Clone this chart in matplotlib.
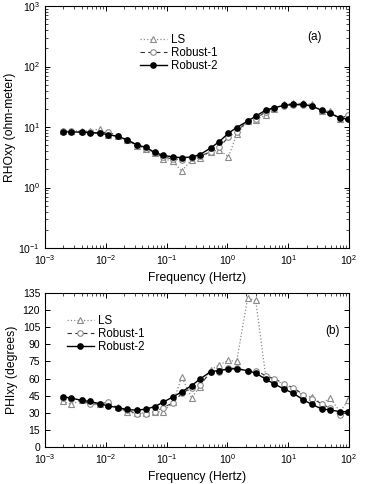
import numpy as np
import matplotlib
matplotlib.use('Agg')
import matplotlib.pyplot as plt
import matplotlib.ticker as mtick

plt.rcParams.update({
    'font.family': ['Liberation Sans', 'DejaVu Sans'],
    'xtick.direction': 'in',
    'ytick.direction': 'in',
    'xtick.top': True,
    'ytick.right': True,
    'axes.linewidth': 0.8,
})

# DATA
freq = [0.00195, 0.0027, 0.0040, 0.0054, 0.0080, 0.0108, 0.0157, 0.0220,
        0.0322, 0.0453, 0.0644, 0.0883, 0.129, 0.177, 0.258, 0.354,
        0.531, 0.728, 1.04, 1.42, 2.15, 2.92, 4.26, 5.84,
        8.63, 12.1, 17.7, 24.3, 35.5, 48.7, 71.1, 97.5]

rho_ls = [8.7, 8.7, 8.6, 8.6, 9.3, 7.4, 7.0, 6.0, 4.9, 4.4, 3.7, 3.0,
          2.7, 1.85, 2.9, 3.1, 3.9, 4.2, 3.2, 7.6, 12.5, 13.2, 15.8, 19.5,
          24.0, 24.5, 24.5, 23.8, 18.5, 18.5, 13.5, 14.5]
rho_r1 = [8.7, 8.7, 8.4, 8.2, 7.9, 8.3, 7.1, 6.2, 5.0, 4.4, 3.7, 3.2,
          2.95, 2.9, 3.05, 3.3, 3.9, 4.6, 6.8, 8.4, 12.5, 13.5, 18.0, 20.5,
          22.5, 23.2, 23.2, 22.0, 18.5, 16.8, 14.0, 15.5]
rho_r2 = [8.3, 8.3, 8.2, 8.1, 7.9, 7.5, 7.0, 6.2, 5.1, 4.6, 3.8, 3.4,
          3.2, 3.1, 3.2, 3.5, 4.5, 5.7, 7.9, 9.8, 12.5, 15.1, 19.0, 20.8,
          22.8, 23.6, 23.6, 22.4, 18.8, 16.8, 14.2, 13.4]

phi_ls = [40, 37.5, 41, 40, 38, 37.5, 35, 30.5, 29.5, 30, 30.5, 31,
          39.5, 61.5, 43, 53, 67.5, 72, 76, 75, 130.5, 128.5, 62.5, 59,
          55, 51, 45, 44, 38, 43, 31, 41]
phi_r1 = [42.6, 42, 41, 37.6, 37.8, 39.4, 34.5, 32.5, 29.3, 29.3, 30.8, 34.6,
          39, 47, 52, 54.5, 65.5, 66, 69, 69, 67, 67, 62.5, 60,
          55.5, 52, 46, 42.5, 38, 34, 28, 31]
phi_r2 = [44.1, 42.9, 40.9, 40, 37.9, 36.1, 34.6, 32.9, 32.3, 33.2, 35.5, 39.4,
          44.1, 48.3, 53.9, 59.5, 66.2, 67, 68.5, 68.5, 67, 64.8, 59.5, 55.4,
          50.7, 47.2, 41.3, 37.5, 33.4, 32.5, 31, 31]

labels = ['LS', 'Robust-1', 'Robust-2']

GRAY = '#8a8a8a'
styles = [
    dict(ls=':', color=GRAY, marker='^', mfc='white', mec=GRAY, ms=4.2, lw=0.9, mew=0.8),
    dict(ls='--', color='#333333', marker='o', mfc='white', mec=GRAY, ms=4, lw=0.8, mew=0.8, dashes=(4, 3)),
    dict(ls='-', color='black', marker='o', mfc='black', mec='black', ms=3.8, lw=1.0),
]

fig = plt.figure(figsize=(3.67, 4.84), dpi=100)
ax1 = fig.add_axes([0.1226, 0.4876, 0.8284, 0.5])
ax2 = fig.add_axes([0.1226, 0.0764, 0.8284, 0.3182])

for y, lab, st in zip([rho_ls, rho_r1, rho_r2], labels, styles):
    ax1.plot(freq, y, label=lab, **st)
for y, lab, st in zip([phi_ls, phi_r1, phi_r2], labels, styles):
    ax2.plot(freq, y, label=lab, **st)

for ax in (ax1, ax2):
    ax.set_xscale('log')
    ax.set_xlim(1e-3, 1e2)
    ax.xaxis.set_minor_locator(mtick.LogLocator(base=10, subs=np.arange(2, 10), numticks=20))
    ax.xaxis.set_minor_formatter(mtick.NullFormatter())
    ax.tick_params(which='major', length=3.5, width=0.7, labelsize=7.5)
    ax.tick_params(which='minor', length=2, width=0.5)
    ax.set_xlabel('Frequency (Hertz)', fontsize=8.7, labelpad=4)

ax1.set_yscale('log')
ax1.set_ylim(1e-1, 1e3)
ax1.yaxis.set_minor_locator(mtick.LogLocator(base=10, subs=np.arange(2, 10), numticks=20))
ax1.yaxis.set_minor_formatter(mtick.NullFormatter())
ax1.set_ylabel('RHOxy (ohm-meter)', fontsize=8.7, labelpad=2)

ax2.set_ylim(0, 135)
ax2.set_yticks(np.arange(0, 136, 15))
ax2.set_ylabel('PHIxy (degrees)', fontsize=8.7, labelpad=3)

leg_kw = dict(loc='upper left', frameon=False, fontsize=8.3, handlelength=2.4,
              handletextpad=0.3, labelspacing=0.12, borderaxespad=0)
ax1.legend(bbox_to_anchor=(0.296, 0.905), **leg_kw)
ax2.legend(bbox_to_anchor=(0.056, 0.89), **leg_kw)

ax1.text(0.888, 0.872, '(a)', transform=ax1.transAxes, ha='center', va='center', fontsize=8.5)
ax2.text(0.947, 0.753, '(b)', transform=ax2.transAxes, ha='center', va='center', fontsize=8.5)

fig.savefig('out.png', dpi=100)
